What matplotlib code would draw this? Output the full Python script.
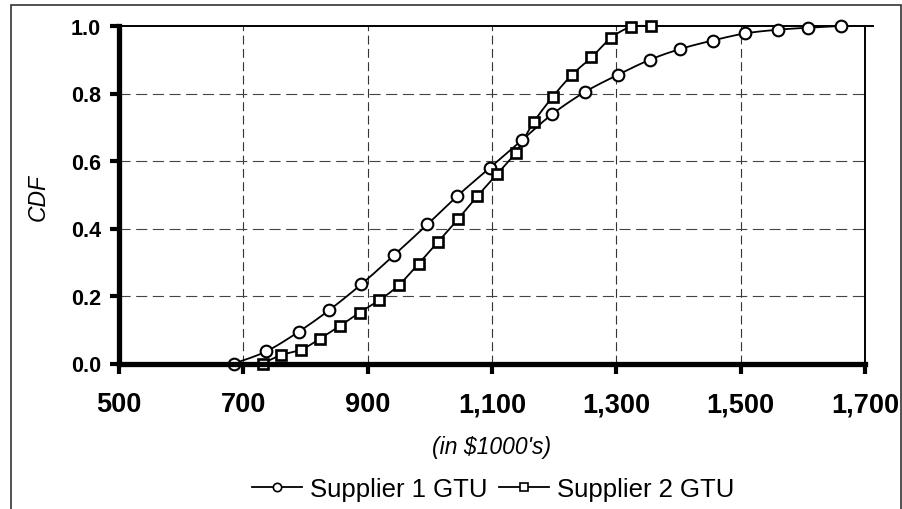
import numpy as np
import matplotlib
matplotlib.use("Agg")
import matplotlib.pyplot as plt
from matplotlib.patches import Rectangle
from matplotlib.lines import Line2D

# ---- data ----
s1_name = "Supplier 1 GTU"
s1_x = [685, 737, 789, 838, 890, 943, 996, 1044, 1096, 1149, 1197, 1249, 1302,
        1354, 1403, 1455, 1507, 1560, 1609, 1661]
s1_y = [0.0, 0.036, 0.094, 0.158, 0.235, 0.322, 0.412, 0.496, 0.579, 0.663,
        0.739, 0.804, 0.855, 0.900, 0.932, 0.957, 0.978, 0.989, 0.995, 1.0]

s2_name = "Supplier 2 GTU"
s2_x = [731, 761, 793, 823, 856, 887, 919, 950, 982, 1013, 1045, 1076, 1108,
        1138, 1167, 1198, 1229, 1260, 1291, 1323, 1355]
s2_y = [0.0, 0.025, 0.041, 0.073, 0.112, 0.151, 0.188, 0.232, 0.296, 0.360,
        0.427, 0.495, 0.561, 0.625, 0.715, 0.791, 0.856, 0.907, 0.964, 0.997, 1.0]

x_ticks = [500, 700, 900, 1100, 1300, 1500, 1700]
x_ticklabels = ["500", "700", "900", "1,100", "1,300", "1,500", "1,700"]
y_ticks = [0.0, 0.2, 0.4, 0.6, 0.8, 1.0]
y_ticklabels = ["0.0", "0.2", "0.4", "0.6", "0.8", "1.0"]
x_label = "(in $1000's)"
y_label = "CDF"


def smooth(x, y, n=16):
    """Catmull-Rom path through the data points (Excel-like smoothed line)."""
    P = np.column_stack([x, y]).astype(float)
    P = np.vstack([P[0], P, P[-1]])
    out = []
    t = np.linspace(0, 1, n, endpoint=False)[:, None]
    for i in range(1, len(P) - 2):
        p0, p1, p2, p3 = P[i - 1], P[i], P[i + 1], P[i + 2]
        seg = 0.5 * ((2 * p1) + (-p0 + p2) * t
                     + (2 * p0 - 5 * p1 + 4 * p2 - p3) * t ** 2
                     + (-p0 + 3 * p1 - 3 * p2 + p3) * t ** 3)
        out.append(seg)
    out.append(P[-2][None])
    s = np.vstack(out)
    return s[:, 0], s[:, 1]


plt.rcParams['font.family'] = ['Liberation Sans', 'DejaVu Sans']

W, H = 903, 510
fig = plt.figure(figsize=(W / 100, H / 100), dpi=100)
ax = fig.add_axes([119 / W, 1 - 364.5 / H, (865 - 119) / W, (364.5 - 27) / H])

# outer frame
fig.patches.append(Rectangle((11 / W, -0.1), (901 - 11) / W, 1.1 - 5.5 / H,
                             transform=fig.transFigure, fill=False,
                             edgecolor='#333333', linewidth=1.2, zorder=0))

lw = 1.3
for xs, ys, mk, ms, mew, name in [(s1_x, s1_y, 'o', 8.4, 1.5, s1_name),
                                  (s2_x, s2_y, 's', 7.8, 1.9, s2_name)]:
    sx, sy = smooth(xs, ys)
    ax.plot(sx, sy, color='black', linewidth=lw, zorder=3, clip_on=False)
    ax.plot(xs, ys, linestyle='none', marker=mk, markersize=ms,
            markerfacecolor='white', markeredgecolor='black',
            markeredgewidth=mew, zorder=4, clip_on=False)

ax.set_xlim(500, 1700)
ax.set_ylim(0, 1.0)
ax.set_xticks(x_ticks)
ax.set_xticklabels(x_ticklabels, fontsize=19.5, fontweight='bold')
ax.set_yticks(y_ticks)
ax.set_yticklabels(y_ticklabels, fontsize=15.5, fontweight='bold')

ax.tick_params(axis='x', direction='out', length=7.5, width=3, pad=12.5)
ax.tick_params(axis='y', direction='out', length=6.3, width=3, pad=6.5)

for g in [700, 900, 1100, 1300, 1500]:
    ax.axvline(g, color='#333333', linewidth=0.8, dashes=(8, 4), zorder=1)
for g in [0.2, 0.4, 0.6, 0.8]:
    ax.axhline(g, color='#444444', linewidth=0.8, dashes=(10, 5), zorder=1)

for side in ['left', 'bottom']:
    ax.spines[side].set_linewidth(3.8)
    ax.spines[side].set_zorder(5)
for side in ['top', 'right']:
    ax.spines[side].set_linewidth(1.4)
ax.plot([1.0, 1.011], [1.0, 1.0], transform=ax.transAxes, color='black',
        linewidth=1.4, clip_on=False)

fig.text(38 / W, 1 - 197.5 / H, y_label, rotation=90, fontsize=16.5, style='italic',
         ha='center', va='center')
fig.text(492 / W, 1 - 448 / H, x_label, fontsize=16.5, style='italic',
         ha='center', va='center')

handles = [Line2D([], [], color='black', linewidth=lw, marker='o', markersize=6,
                  markerfacecolor='white', markeredgecolor='black', markeredgewidth=1.2),
           Line2D([], [], color='black', linewidth=lw, marker='s', markersize=5.5,
                  markerfacecolor='white', markeredgecolor='black', markeredgewidth=1.2)]
fig.legend(handles, [s1_name, s2_name], loc='center', bbox_to_anchor=(493 / W, 1 - 490 / H),
           ncol=2, frameon=False, fontsize=18.5, handlelength=1.95,
           handletextpad=0.3, columnspacing=0.45, borderpad=0, borderaxespad=0)

fig.savefig("out.png", dpi=100)
